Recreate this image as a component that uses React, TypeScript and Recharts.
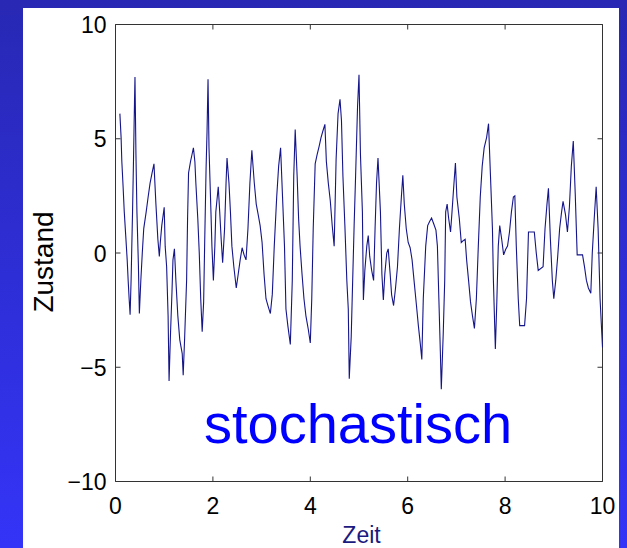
import React from 'react';
import { LineChart, Line, XAxis, YAxis, ReferenceArea } from 'recharts';

// Zeitpunkte
const zeit = [
  0.09, 0.115, 0.13, 0.156, 0.18, 0.21, 0.24, 0.26, 0.28, 0.30,
  0.32, 0.35, 0.37, 0.39, 0.40, 0.42, 0.44, 0.47, 0.49, 0.52,
  0.55, 0.58, 0.63, 0.67, 0.71, 0.75, 0.79, 0.83, 0.87, 0.90,
  0.92, 0.95, 1.00, 1.02, 1.05, 1.08, 1.10, 1.13, 1.16, 1.18,
  1.21, 1.24, 1.28, 1.32, 1.37, 1.39, 1.42, 1.46, 1.48, 1.50,
  1.54, 1.57, 1.60, 1.63, 1.65, 1.69, 1.72, 1.75, 1.78, 1.81,
  1.83, 1.86, 1.88, 1.90, 1.92, 1.96, 1.98, 2.01, 2.04, 2.06,
  2.11, 2.14, 2.17, 2.20, 2.24, 2.27, 2.29, 2.33, 2.36, 2.39,
  2.43, 2.48, 2.52, 2.56, 2.60, 2.64, 2.68, 2.72, 2.76, 2.80,
  2.85, 2.89, 2.93, 2.97, 3.01, 3.05, 3.09, 3.13, 3.18, 3.22,
  3.26, 3.31, 3.35, 3.39, 3.43, 3.47, 3.50, 3.54, 3.59, 3.63,
  3.66, 3.69, 3.73, 3.76, 3.79, 3.83, 3.87, 3.91, 3.96, 4.00,
  4.03, 4.06, 4.10, 4.14, 4.18, 4.22, 4.26, 4.30, 4.33, 4.37,
  4.41, 4.45, 4.49, 4.53, 4.57, 4.61, 4.64, 4.67, 4.71, 4.75,
  4.78, 4.80, 4.84, 4.87, 4.90, 4.93, 4.97, 5.00, 5.03, 5.07,
  5.09, 5.12, 5.16, 5.19, 5.22, 5.26, 5.30, 5.33, 5.36, 5.39,
  5.44, 5.47, 5.50, 5.53, 5.57, 5.60, 5.64, 5.67, 5.71, 5.75,
  5.79, 5.83, 5.87, 5.90, 5.93, 5.97, 6.01, 6.05, 6.09, 6.13,
  6.18, 6.22, 6.26, 6.29, 6.32, 6.37, 6.41, 6.45, 6.49, 6.53,
  6.58, 6.61, 6.64, 6.67, 6.69, 6.73, 6.76, 6.78, 6.81, 6.84,
  6.88, 6.91, 6.94, 6.98, 7.01, 7.06, 7.10, 7.14, 7.18, 7.21,
  7.25, 7.29, 7.33, 7.37, 7.41, 7.45, 7.49, 7.53, 7.57, 7.62,
  7.66, 7.70, 7.74, 7.76, 7.80, 7.83, 7.86, 7.89, 7.93, 7.97,
  8.01, 8.05, 8.09, 8.13, 8.17, 8.20, 8.23, 8.27, 8.30, 8.40,
  8.44, 8.48, 8.60, 8.64, 8.68, 8.78, 8.82, 8.86, 8.89, 8.93,
  8.97, 9.00, 9.04, 9.08, 9.12, 9.16, 9.19, 9.24, 9.28, 9.32,
  9.36, 9.40, 9.44, 9.48, 9.59, 9.63, 9.67, 9.71, 9.76, 9.79,
  9.83, 9.87, 9.91, 9.95, 10.0,
];

// Zustand values
const zustand = [
  6.1, 5.05, 4.0, 2.9, 1.8, 0.76, -0.3, -1.2, -2.0, -2.7,
  -1.2, 1.8, 4.1, 6.6, 7.7, 4.3, 1.8, -0.5, -2.65, -1.2,
  0, 1.07, 1.8, 2.45, 3.06, 3.5, 3.9, 2.14, 0.6, -0.15,
  0.46, 1.2, 2.0, 0.3, -0.6, -2.75, -5.6, -3.5, -1.7, -0.3,
  0.18, -1.2, -2.75, -3.8, -4.4, -5.35, -3.7, -1.2, 1.5, 3.5,
  4.0, 4.3, 4.6, 4.0, 3.06, 1.5, 0, -2.0, -3.44, -2.14,
  0.3, 3.7, 5.35, 7.6, 4.6, 1.8, 0.3, -1.2, 0.3, 1.8,
  2.9, 1.8, 0.6, -0.43, 1.07, 3.06, 4.16, 3.06, 1.8, 0.3,
  -0.6, -1.53, -0.92, -0.3, 0.23, -0.08, -0.3, 1.07, 3.06, 4.5,
  3.06, 2.14, 1.68, 1.2, 0.46, -0.92, -2.0, -2.3, -2.65, -1.8,
  0.3, 2.45, 3.8, 4.6, 2.45, 0.3, -2.45, -3.2, -4.0, -1.2,
  3.36, 5.4, 3.36, 1.5, 0.3, -0.92, -2.0, -2.75, -3.36, -3.94,
  -2.0, 1.07, 3.9, 4.3, 4.66, 5.05, 5.35, 5.63, 4.0, 3.06,
  2.3, 1.2, 0.3, 4.1, 6.1, 6.73, 5.8, 3.36, 1.2, -1.2,
  -2.45, -5.5, -3.67, -1.2, 1.2, 3.36, 6.4, 7.8, 4.3, 1.8,
  -2.06, -0.76, 0.3, 0.76, -0.15, -0.76, -1.2, 1.07, 3.06, 4.16,
  1.8, -0.92, -2.06, -0.92, 0, 0.18, -0.92, -1.83, -2.3, -1.53,
  -0.6, 1.07, 2.45, 3.4, 2.14, 1.07, 0.46, 0.23, -0.3, -1.2,
  -2.3, -3.2, -4.0, -4.66, -2.0, 0.3, 1.2, 1.38, 1.53, 1.3,
  1.0, 0.3, -2.0, -4.3, -5.96, -3.5, -1.2, 1.8, 2.14, 1.53,
  0.92, 1.8, 2.75, 3.94, 2.45, 1.5, 0.46, 0.54, 0.6, -0.3,
  -1.2, -2.14, -2.75, -3.3, -2.0, 0.3, 2.45, 3.8, 4.6, 5.05,
  5.66, 3.36, 1.07, -1.2, -4.2, -2.14, 0.3, 1.2, 0.6, -0.08,
  0.15, 0.3, 0.92, 1.8, 2.45, 2.5, 0.3, -2.0, -3.18, -3.18,
  -2.0, 0.92, 0.92, 0, -0.76, -0.6, 1.07, 2.14, 2.83, 0.6,
  -1.2, -2.0, -1.2, -0.15, 1.07, 1.8, 2.26, 1.68, 0.92, 2.0,
  3.8, 4.9, 2.6, -0.08, -0.08, -0.6, -1.2, -1.53, -1.76, 0,
  1.5, 2.9, 1.07, -2.0, -4.13,
];

const xTicks = [0, 2, 4, 6, 8, 10];
const yTicks = [-10, -5, 0, 5, 10];

const data = zeit.map((t, i) => ({ t, z: zustand[i] }));

const W = 627;
const H = 548;
const LEFT = 115.5;
const RIGHT = 602.5;
const TOP = 24.5;
const BOTTOM = 481.5;
const TICK = 5;
const X_AXIS_H = 30;
const Y_AXIS_W = 60;
const FONT = '"Liberation Sans", Arial, Helvetica, sans-serif';

const minus = (v: number) => String(v).replace('-', '\u2212');

const XTick = (props: any) => {
  const { x, payload } = props;
  return (
    <g>
      <line x1={x} x2={x} y1={BOTTOM} y2={BOTTOM - TICK} stroke="#333" />
      <line x1={x} x2={x} y1={TOP} y2={TOP + TICK} stroke="#333" />
      <text x={x} y={BOTTOM + 32} textAnchor="middle" fontSize={23} fontFamily={FONT} fill="#000">
        {minus(payload.value)}
      </text>
    </g>
  );
};

const YTick = (props: any) => {
  const { y, payload } = props;
  return (
    <g>
      <line x1={LEFT} x2={LEFT + TICK} y1={y} y2={y} stroke="#333" />
      <line x1={RIGHT} x2={RIGHT - TICK} y1={y} y2={y} stroke="#333" />
      <text x={LEFT - 9} y={y + 8.5} textAnchor="end" fontSize={23} fontFamily={FONT} fill="#000">
        {minus(payload.value)}
      </text>
    </g>
  );
};

export default function App() {
  return (
    <div
      style={{
        position: 'fixed',
        left: 0,
        top: 0,
        width: W,
        height: H,
        overflow: 'hidden',
        background: 'linear-gradient(180deg, #2828b4 0%, #3434f8 100%)',
      }}
    >
      <div style={{ position: 'absolute', left: 23, top: 8, width: 596, height: H - 8, background: '#fff' }} />
      <div style={{ position: 'absolute', left: 0, top: 0 }}>
        <LineChart
          width={W}
          height={H}
          data={data}
          margin={{
            left: LEFT - Y_AXIS_W,
            right: W - RIGHT,
            top: TOP,
            bottom: H - BOTTOM - X_AXIS_H,
          }}
        >
          <XAxis
            dataKey="t"
            type="number"
            domain={[0, 10]}
            ticks={xTicks}
            height={X_AXIS_H}
            tickLine={false}
            axisLine={false}
            tick={XTick}
            interval={0}
          />
          <YAxis
            type="number"
            domain={[-10, 10]}
            ticks={yTicks}
            width={Y_AXIS_W}
            tickLine={false}
            axisLine={false}
            tick={YTick}
            interval={0}
          />
          <ReferenceArea x1={0} x2={10} y1={-10} y2={10} fill="none" stroke="#333" strokeWidth={1} />
          <Line
            type="linear"
            dataKey="z"
            stroke="#15158a"
            strokeWidth={1.1}
            dot={false}
            isAnimationActive={false}
          />
        </LineChart>
      </div>
      <svg width={W} height={H} style={{ position: 'absolute', left: 0, top: 0, pointerEvents: 'none' }}>
        <text x={358} y={443} textAnchor="middle" fontSize={56} fontFamily={FONT} fill="#0000ff">
          stochastisch
        </text>
        <text x={361.5} y={543} textAnchor="middle" fontSize={23} fontFamily={FONT} fill="#1a1a80">
          Zeit
        </text>
        <text
          x={53}
          y={262}
          transform="rotate(-90 53 262)"
          textAnchor="middle"
          fontSize={28}
          fontFamily={FONT}
          fill="#000"
        >
          Zustand
        </text>
      </svg>
    </div>
  );
}
